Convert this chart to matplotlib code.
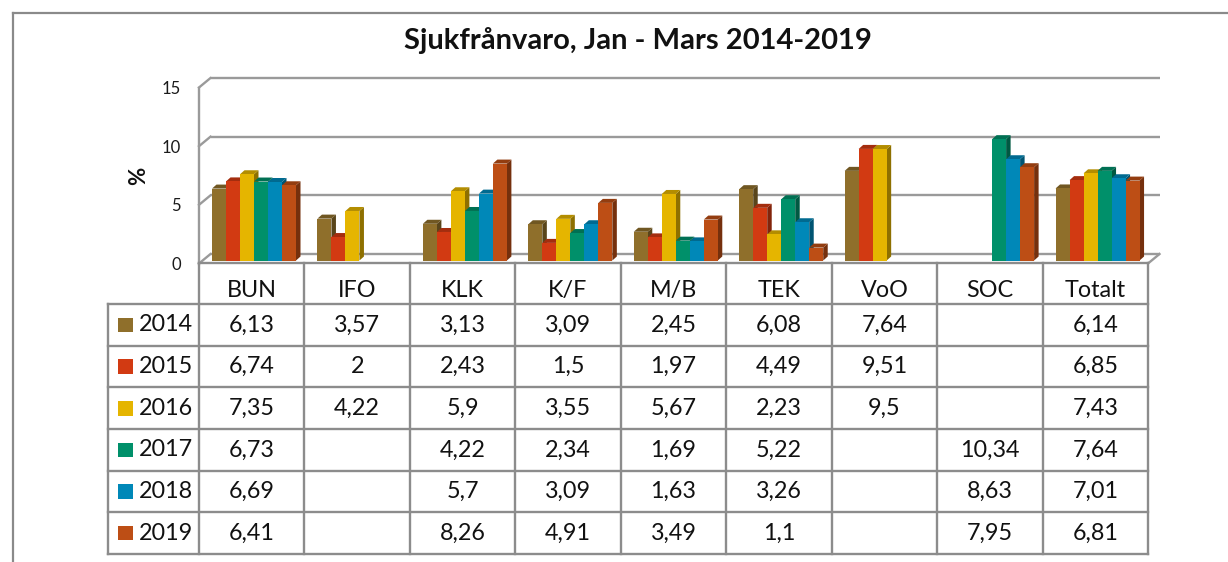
import numpy as np
import matplotlib
matplotlib.use('Agg')
import matplotlib.pyplot as plt
from matplotlib.patches import Polygon, Rectangle
from matplotlib.lines import Line2D
from matplotlib.colors import to_rgb

plt.rcParams['font.family'] = ['Lato', 'DejaVu Sans']

# ---------------- data ----------------
title = 'Sjukfrånvaro, Jan - Mars 2014-2019'
categories = ['BUN', 'IFO', 'KLK', 'K/F', 'M/B', 'TEK', 'VoO', 'SOC', 'Totalt']
years = ['2014', '2015', '2016', '2017', '2018', '2019']
nan = np.nan
v2014 = [6.13, 3.57, 3.13, 3.09, 2.45, 6.08, 7.64, nan, 6.14]
v2015 = [6.74, 2.00, 2.43, 1.50, 1.97, 4.49, 9.51, nan, 6.85]
v2016 = [7.35, 4.22, 5.90, 3.55, 5.67, 2.23, 9.50, nan, 7.43]
v2017 = [6.73, nan, 4.22, 2.34, 1.69, 5.22, nan, 10.34, 7.64]
v2018 = [6.69, nan, 5.70, 3.09, 1.63, 3.26, nan, 8.63, 7.01]
v2019 = [6.41, nan, 8.26, 4.91, 3.49, 1.10, nan, 7.95, 6.81]
series = [v2014, v2015, v2016, v2017, v2018, v2019]
colors = ['#8F6F2B', '#D23A12', '#E5B500', '#00906A', '#0088B8', '#BD4E15']
yticks = [0, 5, 10, 15]
ylabel = '%'

# ---------------- layout ----------------
W, H = 1228, 562
fig = plt.figure(figsize=(W / 100, H / 100), dpi=100)
fig.patch.set_facecolor('white')


def fx(px):
    return px / W


def fy(py):
    return 1 - py / H


AX_L, AX_R, AX_B, AX_T = 199, 1148, 263.5, 87.5
ax = fig.add_axes([fx(AX_L), fy(AX_B), (AX_R - AX_L) / W, (AX_B - AX_T) / H])
ncat = len(categories)
ax.set_xlim(0, ncat)
ax.set_ylim(0, 15)
for s in ax.spines.values():
    s.set_visible(False)
ax.set_xticks([])
ax.set_yticks(yticks)
ax.set_yticklabels([str(t) for t in yticks])
ax.tick_params(axis='y', length=0, pad=13, labelsize=12, labelcolor='#1a1a1a')
ax.patch.set_alpha(0)

xu = (AX_R - AX_L) / ncat      # px per category
yu = (AX_B - AX_T) / 15.0      # px per unit


def dxu(px):
    return px / xu


def dyu(px):
    return px / yu


grid_col = '#9a9a9a'
glw = 1.7
wall_dx, wall_dy = dxu(11.5), dyu(9.5)
for t in yticks:
    ax.plot([wall_dx, ncat + wall_dx], [t + wall_dy] * 2, color=grid_col, lw=glw,
            clip_on=False, zorder=1, solid_capstyle='butt')
    ax.plot([0, wall_dx], [t, t + wall_dy], color=grid_col, lw=glw, clip_on=False, zorder=1)
ax.plot([0, 0], [0, 15], color=grid_col, lw=glw, clip_on=False, zorder=1)
ax.plot([ncat, ncat + wall_dx], [0, wall_dy], color=grid_col, lw=glw, clip_on=False, zorder=1)

fig.text(fx(139), fy(176), ylabel, rotation=90, ha='center', va='center',
         fontsize=16, fontweight='bold', color='#111111')

# ---------------- bars ----------------
bw = dxu(14)
off0 = dxu(13)
depx, depy = dxu(4.5), dyu(4)
lift = dyu(3)
z = 5
for i in range(ncat):
    for j, vals in enumerate(series):
        v = vals[i]
        if np.isnan(v):
            continue
        x0 = i + off0 + j * bw
        c = np.array(to_rgb(colors[j]))
        side = Polygon([(x0 + bw, lift), (x0 + bw + depx, lift + depy),
                        (x0 + bw + depx, v + lift + depy), (x0 + bw, v + lift)],
                       closed=True, facecolor=c * 0.62, edgecolor='none', zorder=z,
                       clip_on=False)
        top = Polygon([(x0, v + lift), (x0 + depx, v + lift + depy),
                       (x0 + bw + depx, v + lift + depy), (x0 + bw, v + lift)],
                      closed=True, facecolor=c * 0.78, edgecolor='none', zorder=z + 1,
                      clip_on=False)
        ax.add_patch(side)
        ax.add_patch(top)
        ax.bar(x0, v, width=bw, bottom=lift, align='edge', color=colors[j],
               edgecolor='none', zorder=z + 2, clip_on=False)
        z += 3

# ---------------- data table ----------------
TB_T, TB_B, LEG_L = 262.5, 554, 108
nrows = len(years) + 1
tax = fig.add_axes([fx(LEG_L), fy(TB_B), (AX_R - LEG_L) / W, (TB_B - TB_T) / H])
leg_x = -(AX_L - LEG_L) / xu
tax.set_xlim(leg_x, ncat)
tax.set_ylim(nrows, 0)
tax.axis('off')

tcol = '#8c8c8c'
tlw = 1.7
tax.plot([0, ncat], [0, 0], color=tcol, lw=tlw, clip_on=False)
for k in range(ncat + 1):
    tax.plot([k, k], [0, nrows], color=tcol, lw=tlw, clip_on=False)
tax.plot([leg_x, leg_x], [1, nrows], color=tcol, lw=tlw, clip_on=False)
for r in range(1, nrows + 1):
    tax.plot([leg_x, ncat], [r, r], color=tcol, lw=tlw, clip_on=False)

fs = 16.8
for i, cat in enumerate(categories):
    tax.text(i + 0.5, 0.68, cat, ha='center', va='center', fontsize=fs, color='#111111')


def fmt(v):
    return '' if np.isnan(v) else f'{v:g}'.replace('.', ',')


sq = 14.5
rowpx = (TB_B - TB_T) / nrows
for j, (yr, vals) in enumerate(zip(years, series)):
    r = j + 1.5
    tax.add_patch(Rectangle((leg_x + dxu(10), r - (sq / 2) / rowpx),
                            dxu(sq), sq / rowpx,
                            facecolor=colors[j], edgecolor='none', clip_on=False))
    tax.text(leg_x + dxu(31), r, yr, ha='left', va='center', fontsize=fs, color='#111111')
    for i, v in enumerate(vals):
        tax.text(i + 0.5, r, fmt(v), ha='center', va='center', fontsize=fs, color='#111111')

# ---------------- title & frame ----------------
fig.text(fx(638), fy(40), title, ha='center', va='center', fontsize=21,
         fontweight='bold', color='#111111')
fig.add_artist(Line2D([fx(13), fx(13)], [fy(13), 0], color='#8a8a8a', lw=1.6))
fig.add_artist(Line2D([fx(13), 1], [fy(13), fy(13)], color='#8a8a8a', lw=1.6))

fig.savefig('out.png', dpi=100, facecolor='white')
